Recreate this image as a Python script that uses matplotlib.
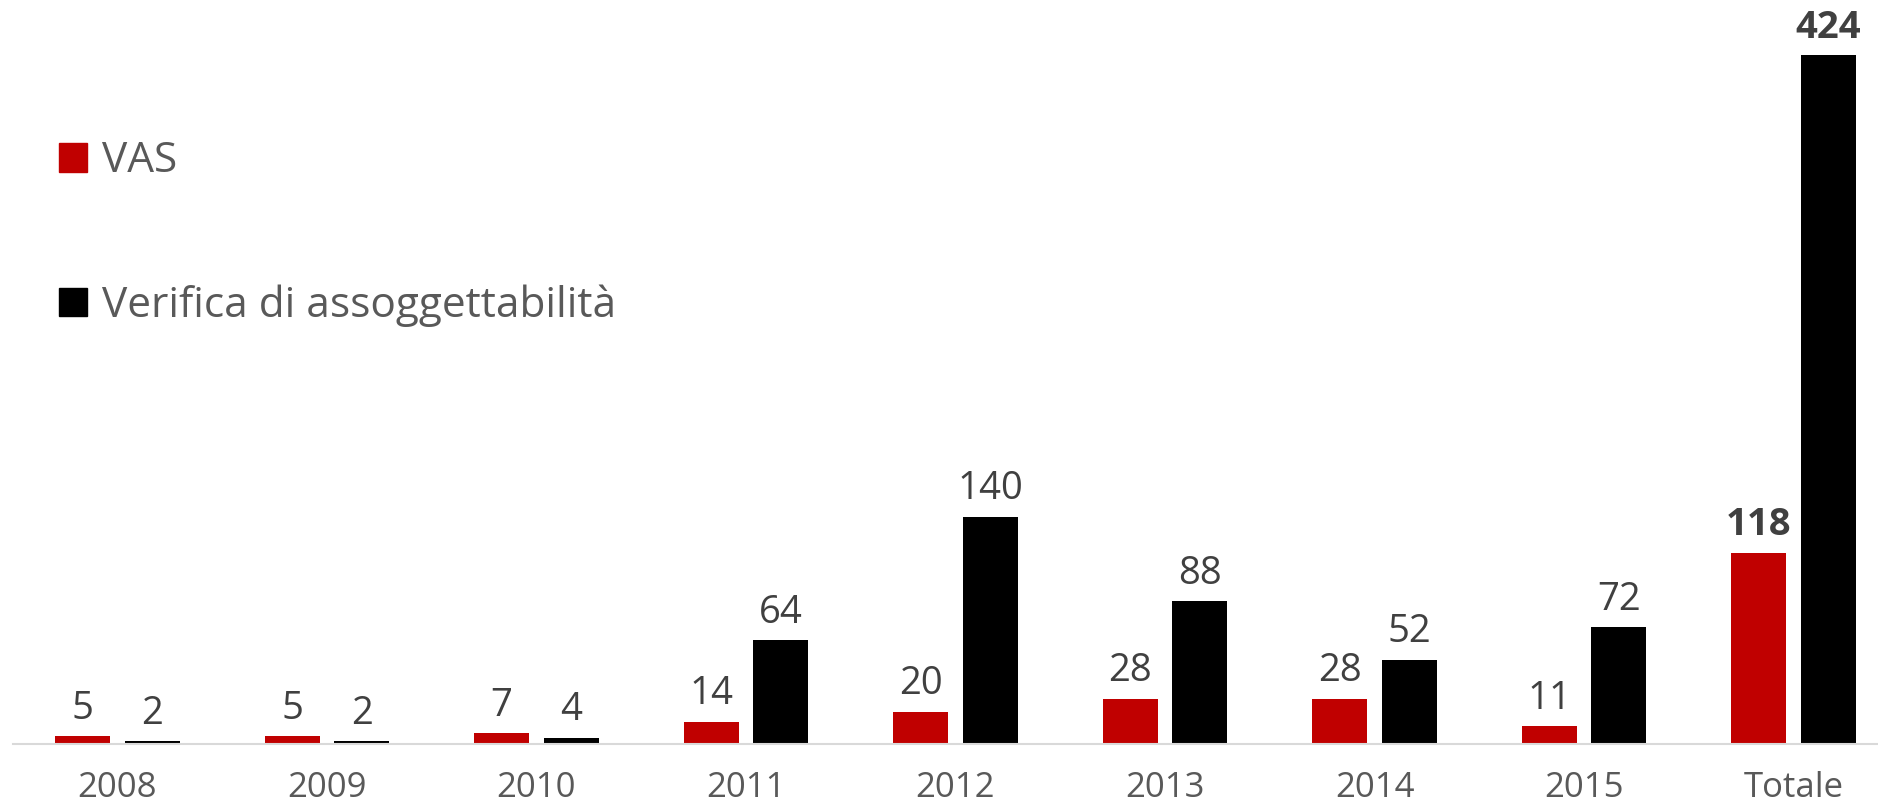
import matplotlib.pyplot as plt
import numpy as np
from matplotlib.patches import Patch

# data
categories = ['2008', '2009', '2010', '2011', '2012', '2013', '2014', '2015', 'Totale']
vas = [5, 5, 7, 14, 20, 28, 28, 11, 118]
verifica = [2, 2, 4, 64, 140, 88, 52, 72, 424]

plt.rcParams['font.family'] = ['Open Sans', 'DejaVu Sans']

red = '#c00000'
black = '#000000'
val_col = '#404040'
txt_col = '#595959'

fig = plt.figure(figsize=(18.78, 8.09), dpi=100)
ax = fig.add_axes([0.0067, 0.08, 0.9933, 0.92])

x = np.arange(len(categories))
w = 0.263
gap = 0.069
b1 = ax.bar(x - (w + gap) / 2, vas, w, color=red)
b2 = ax.bar(x + (w + gap) / 2, verifica, w, color=black)

ax.set_xlim(-0.5, 8.403)
ax.set_ylim(0, 458)

lab1 = ax.bar_label(b1, padding=6, fontsize=27.5, color=val_col)
lab2 = ax.bar_label(b2, padding=6, fontsize=27.5, color=val_col)
lab1[-1].set_fontweight('bold')
lab2[-1].set_fontweight('bold')

for s in ['top', 'right', 'left']:
    ax.spines[s].set_visible(False)
ax.spines['bottom'].set_color('#d9d9d9')
ax.spines['bottom'].set_linewidth(1.5)
ax.set_yticks([])
ax.set_xticks(x)
ax.set_xticklabels(categories)
ax.tick_params(axis='x', length=0, pad=19, labelsize=25, labelcolor=txt_col)

handles = [Patch(color=red, label='VAS'), Patch(color=black, label='Verifica di assoggettabilità')]
leg = ax.legend(handles=handles, loc='upper left', bbox_to_anchor=(0.016, 0.834),
                frameon=False, fontsize=30.5, labelspacing=2.4,
                handlelength=0.65, handleheight=0.65, handletextpad=0.35,
                borderaxespad=0)
for t in leg.get_texts():
    t.set_color(txt_col)

fig.savefig('out.png', dpi=100)
